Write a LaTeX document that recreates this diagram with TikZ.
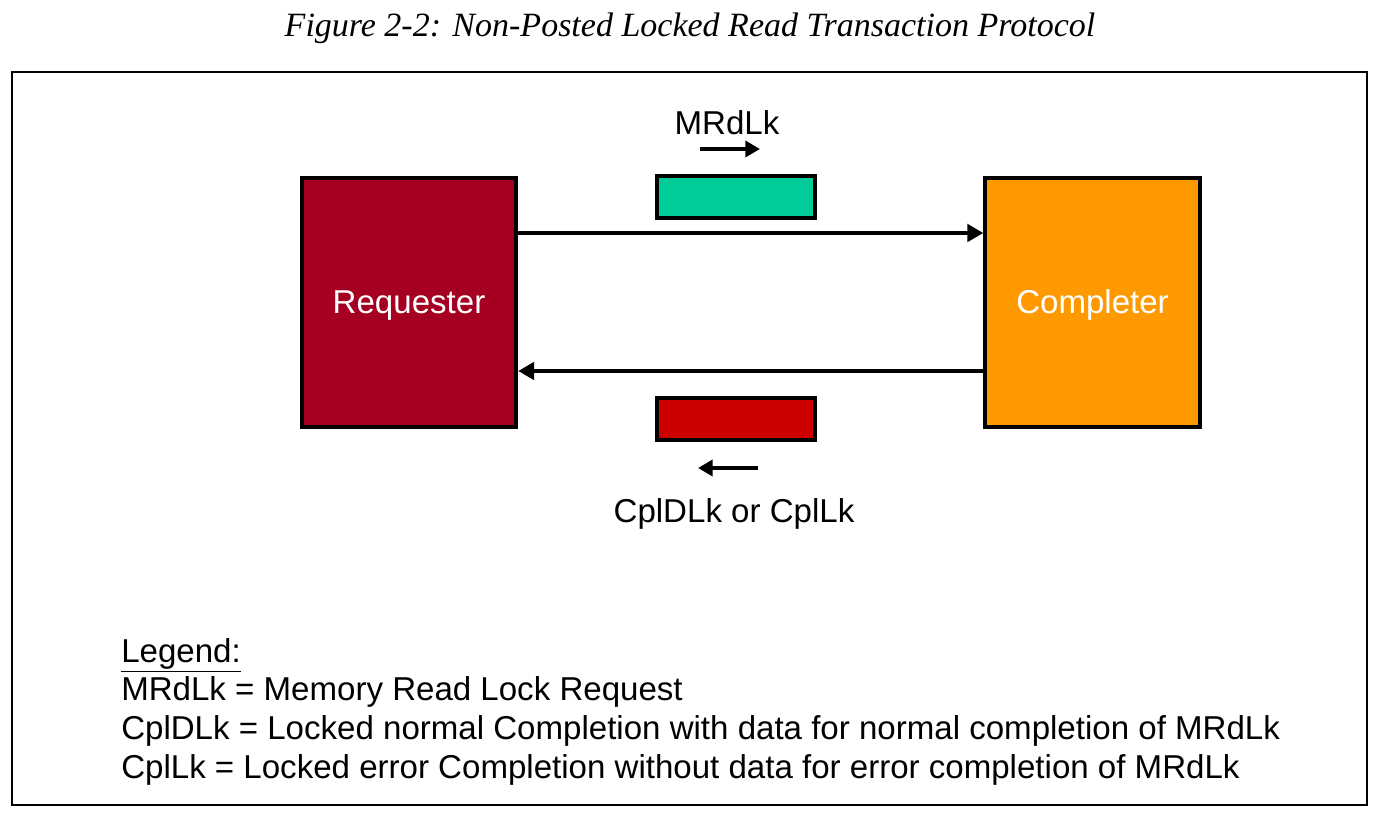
\documentclass[tikz,border=0pt]{standalone}
\usepackage{fontspec}
\setmainfont{Liberation Sans}
\newfontfamily\captionfont{Liberation Serif}
\usetikzlibrary{arrows.meta, calc}
\definecolor{reqred}{HTML}{A50021}
\definecolor{cplorange}{HTML}{FF9900}
\definecolor{pktgreen}{HTML}{00CC99}
\definecolor{pktred}{HTML}{CC0000}
\tikzstyle{agent} = [rectangle, minimum width=161pt, minimum height=187pt, text centered, text height=17pt, text depth=0pt, draw=black, line width=2.8pt, text=white, font=\fontsize{24.8}{29}\selectfont]
\tikzstyle{packet} = [rectangle, minimum width=119pt, minimum height=32pt, draw=black, line width=3pt]
\tikzstyle{label} = [font=\fontsize{24.8}{29}\selectfont, inner sep=0pt]
\tikzstyle{arrow} = [line width=3.4pt, -{Triangle[length=12pt, width=13pt]}]
\tikzstyle{smallarrow} = [line width=3.6pt, -{Triangle[length=11pt, width=12pt]}]

\begin{document}
\begin{tikzpicture}[x=0.75pt, y=-0.75pt]
\useasboundingbox (0,0) rectangle (1373,813);
\node (title) at (690,28) {\captionfont\itshape\fontsize{25.5}{30}\selectfont Figure 2-2: Non-Posted Locked Read Transaction Protocol};
\draw [line width=1.6pt] (12,72) rectangle (1367,805);

\node (req) [agent, fill=reqred] at (409,302.5) {Requester};
\node (cpl) [agent, fill=cplorange] at (1092.5,302.5) {Completer};

\node (mrd) [packet, fill=pktgreen] at (736,197) {};
\node (cpld) [packet, fill=pktred] at (736,419) {};

\node (mrdtext) [label] at (727,123) {MRdLk};
\node (cpltext) [label] at (734,513.5) {CplDLk or CplLk};

\coordinate (upA) at (700,149);
\coordinate (upB) at (760,149);
\coordinate (downA) at (758,468);
\coordinate (downB) at (698,468);

\draw [arrow] (req.east |- 0,233) -- (cpl.west |- 0,233);
\draw [arrow] (cpl.west |- 0,371) -- (req.east |- 0,371);
\draw [smallarrow] (upA) -- (upB);
\draw [smallarrow] (downA) -- (downB);

\node (legend) [label, anchor=north west, align=left, font=\fontsize{24.8}{29}\selectfont] at (121,638) {\underline{Legend:}\\
MRdLk = Memory Read Lock Request\\
CplDLk = Locked normal Completion with data for normal completion of MRdLk\\
CplLk = Locked error Completion without data for error completion of MRdLk};
\end{tikzpicture}
\end{document}
